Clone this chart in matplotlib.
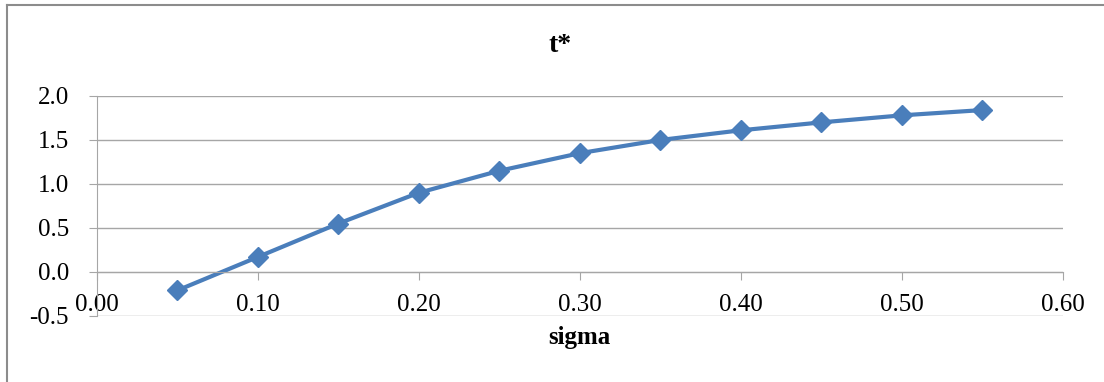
import matplotlib
matplotlib.use('Agg')
import matplotlib.pyplot as plt
from matplotlib.lines import Line2D

plt.rcParams['font.family'] = ['Liberation Serif', 'DejaVu Serif']

# data
sigma = [0.05, 0.10, 0.15, 0.20, 0.25, 0.30, 0.35, 0.40, 0.45, 0.50, 0.55]
t_star = [-0.21, 0.17, 0.55, 0.90, 1.15, 1.35, 1.50, 1.61, 1.70, 1.78, 1.84]
x_ticks = [0.00, 0.10, 0.20, 0.30, 0.40, 0.50, 0.60]
y_ticks = [-0.5, 0.0, 0.5, 1.0, 1.5, 2.0]

fig = plt.figure(figsize=(11.04, 3.82), dpi=100)
ax = fig.add_axes([0.0876, 0.1728, 0.875, 0.5759])

ax.plot(sigma, t_star, color='#4A7EBB', linewidth=3.0, marker='D',
        markersize=10.5, markerfacecolor='#4A7EBB', markeredgecolor='#4A7EBB')

ax.set_xlim(0, 0.60)
ax.set_ylim(-0.5, 2.0)
ax.set_xticks(x_ticks)
ax.set_yticks(y_ticks)
ax.set_xticklabels([f"{v:.2f}" for v in x_ticks])
ax.set_yticklabels([f"{v:.1f}" for v in y_ticks])

# grid + axes styling, Excel look
ax.grid(axis='y', color='#A6A6A6', linewidth=1.0)
ax.set_axisbelow(True)
for s in ['top', 'right']:
    ax.spines[s].set_visible(False)
ax.spines['bottom'].set_position(('data', 0))
ax.spines['bottom'].set_color('#A6A6A6')
ax.spines['left'].set_color('#A6A6A6')
ax.tick_params(axis='x', direction='out', length=5.5, color='#A6A6A6',
               labelsize=18, pad=10)
ax.tick_params(axis='y', direction='out', length=6, color='#A6A6A6',
               labelsize=18, pad=14)

ax.set_xlabel('sigma', fontsize=18, fontweight='bold', labelpad=0)
ax.xaxis.set_label_coords(0.5, -0.045)
fig.text(560 / 1104, 1 - 45 / 382, 't*', fontsize=20, fontweight='bold',
         ha='center', va='center')

# outer chart border (left and top visible)
fig.add_artist(Line2D([7 / 1104, 7 / 1104], [0, 1 - 5 / 382],
                      transform=fig.transFigure, color='#8C8C8C', linewidth=1.5))
fig.add_artist(Line2D([7 / 1104, 1], [1 - 5 / 382, 1 - 5 / 382],
                      transform=fig.transFigure, color='#8C8C8C', linewidth=1.5))

fig.savefig('out.png', dpi=100)
